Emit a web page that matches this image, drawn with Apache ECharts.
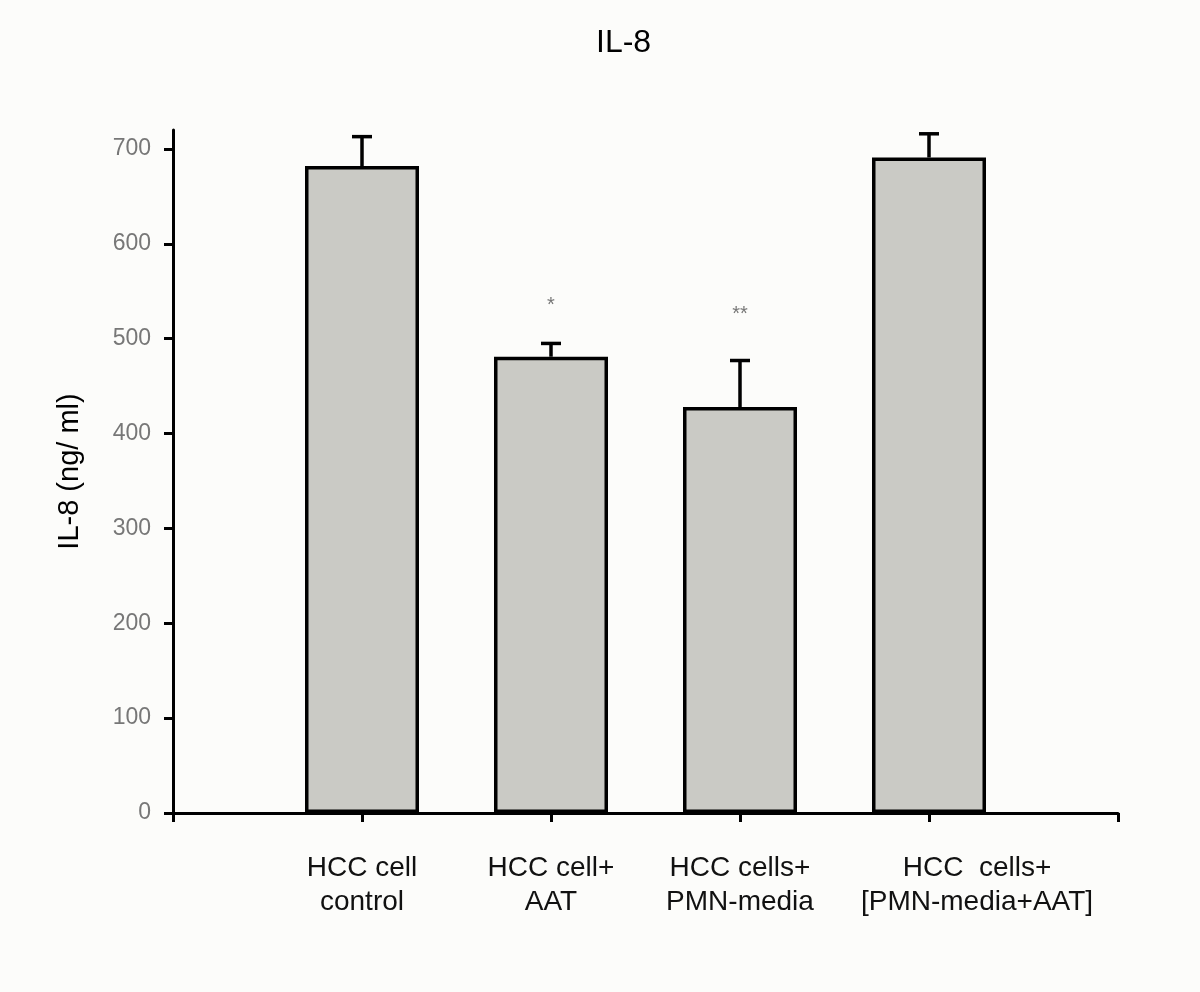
<!DOCTYPE html>
<html>
<head>
<meta charset="utf-8">
<script src="https://cdn.jsdelivr.net/npm/echarts@6/dist/echarts.min.js"></script>
<style>
html,body{margin:0;padding:0;background:#fcfcfa;}
#chart{width:1200px;height:992px;}
</style>
</head>
<body>
<div id="chart"></div>
<script>
var categories = ['', 'HCC cell\ncontrol', 'HCC cell+\nAAT', 'HCC cells+\nPMN-media', 'HCC  cells+\n[PMN-media+AAT]', ''];
var means = ['-', 682, 481, 428, 691, '-'];
var errors = [0, 31, 14, 49, 25, 0];
var sigMarks = [[2, 535, '*'], [3, 525, '**']];
var yTicks = [0, 100, 200, 300, 400, 500, 600, 700];

var FONT = '"Liberation Sans", Arial, sans-serif';
var chart = echarts.init(document.getElementById('chart'));

var errData = [];
for (var i = 0; i < means.length; i++) {
  if (means[i] !== '-') errData.push([i, means[i], means[i] + errors[i]]);
}
var catData = categories.map(function (c, i) {
  if (i === 4) return {value: c, textStyle: {padding: [0, 0, 0, 96]}};
  return c;
});

chart.setOption({
  backgroundColor: '#fcfcfa',
  animation: false,
  title: {
    text: 'IL-8',
    left: 591,
    top: 22,
    textStyle: {fontFamily: FONT, fontSize: 32, fontWeight: 'normal', color: '#000'}
  },
  grid: {left: 173, right: 82, top: 130, bottom: 179, containLabel: false},
  xAxis: {
    type: 'category',
    data: catData,
    boundaryGap: false,
    axisLine: {lineStyle: {color: '#000', width: 3}},
    axisTick: {length: 9, lineStyle: {color: '#000', width: 3}},
    axisLabel: {
      interval: 0,
      margin: 38,
      fontFamily: FONT,
      fontSize: 28,
      lineHeight: 34,
      color: '#111'
    },
    splitLine: {show: false}
  },
  yAxis: {
    type: 'value',
    min: 0,
    max: 720,
    interval: 100,
    name: 'IL-8 (ng/ ml)',
    nameLocation: 'middle',
    nameGap: 89,
    nameTextStyle: {fontFamily: FONT, fontSize: 29, color: '#000'},
    axisLine: {show: true, lineStyle: {color: '#000', width: 3}},
    axisTick: {show: true, length: 9, customValues: yTicks, lineStyle: {color: '#000', width: 3}},
    axisLabel: {customValues: yTicks, margin: 22, fontFamily: FONT, fontSize: 23, color: '#777'},
    splitLine: {show: false}
  },
  series: [
    {
      type: 'bar',
      data: means,
      barWidth: 114,
      itemStyle: {color: '#cacac5', borderColor: '#000', borderWidth: 3.5},
      z: 2
    },
    {
      type: 'custom',
      data: errData,
      z: 3,
      renderItem: function (params, api) {
        var x = api.value(0);
        var p0 = api.coord([x, api.value(1)]);
        var p1 = api.coord([x, api.value(2)]);
        var half = 10;
        var style = {stroke: '#000', lineWidth: 3.5};
        return {
          type: 'group',
          children: [
            {type: 'line', shape: {x1: p0[0], y1: p0[1], x2: p1[0], y2: p1[1]}, style: style},
            {type: 'line', shape: {x1: p1[0] - half, y1: p1[1], x2: p1[0] + half, y2: p1[1]}, style: style}
          ]
        };
      }
    },
    {
      type: 'scatter',
      data: sigMarks,
      symbolSize: 0,
      label: {
        show: true,
        position: 'inside',
        formatter: function (p) { return p.data[2]; },
        fontFamily: FONT,
        fontSize: 20,
        color: '#555'
      },
      z: 4
    }
  ]
});
</script>
</body>
</html>
